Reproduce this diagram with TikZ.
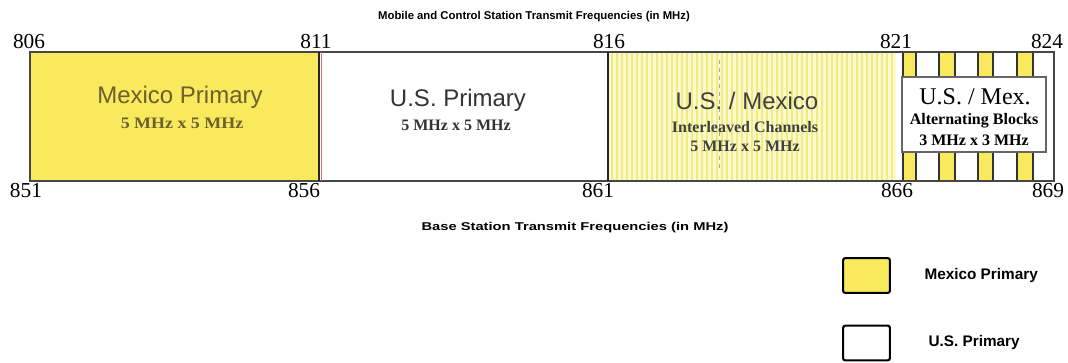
\documentclass[tikz,border=0pt]{standalone}
\usepackage{fontspec}
\setmainfont{Liberation Serif}
\setsansfont{Liberation Sans}
\usetikzlibrary{positioning}
\definecolor{mexyellow}{RGB}{248,234,92}
\definecolor{paleyellow}{RGB}{252,250,205}
\definecolor{stripeyellow}{RGB}{240,236,130}
\definecolor{mextext}{RGB}{110,94,48}
\definecolor{bandline}{RGB}{70,70,70}
\definecolor{splitred}{RGB}{225,110,120}

\begin{document}
\begin{tikzpicture}[x=0.75pt, y=-0.75pt,
    bandedge/.style={draw=bandline, line width=0.9pt},
    divider/.style={draw=black!85, line width=1.1pt},
    blockedge/.style={draw=black!80, line width=0.9pt},
    bigtitle/.style={font=\fontsize{18}{20}\selectfont\sffamily, inner sep=0pt},
    subtitle/.style={font=\fontsize{12}{13}\selectfont\bfseries, inner sep=0pt},
    freq/.style={font=\fontsize{16}{17}\selectfont, inner sep=0pt},
    axistitle/.style={font=\fontsize{8.5}{10}\selectfont\sffamily\bfseries, inner sep=0pt},
    legendbox/.style={draw=black, line width=1.6pt, rounded corners=1.5pt,
                      minimum width=35pt, minimum height=26pt, inner sep=0pt},
    legendtext/.style={font=\fontsize{11.5}{13}\selectfont\sffamily\bfseries, inner sep=0pt}
]
    \useasboundingbox (0,0) rectangle (1068,362);

    % band fills
    \fill[mexyellow] (30,52) rectangle (319,181);
    \fill[paleyellow] (608,52) rectangle (896,181);
    \foreach \x in {612,617,...,894}
        \draw[stripeyellow, line width=1.4pt] (\x,53) -- (\x,180);
    \draw[black!35, dashed, line width=0.5pt] (719,60) -- (719,168);

    % alternating blocks
    \foreach \a/\b in {903/916, 939/955, 978/993, 1017/1033} {
        \fill[mexyellow] (\a,52) rectangle (\b,77);
        \fill[mexyellow] (\a,152) rectangle (\b,181);
        \draw[blockedge] (\a,52) -- (\a,77) (\b,52) -- (\b,77);
        \draw[blockedge] (\a,152) -- (\a,181) (\b,152) -- (\b,181);
    }
    \node[draw=black!60, fill=white, line width=0.8pt, minimum width=108pt,
          minimum height=56.25pt, inner sep=0pt] (altbox) at (974,114.5) {};

    % outline
    \draw[bandedge] (30,52) rectangle (1054,181);
    \draw[divider] (319,52) -- (319,181);
    \draw[splitred, line width=0.7pt] (321.5,52) -- (321.5,181);
    \draw[divider, line width=1.6pt] (608,52) -- (608,181);

    \foreach \lbl/\x in {806/29, 811/316, 816/609, 821/896, 824/1047}
        \node[freq] (top\lbl) at (\x,42) {\lbl};
    \foreach \lbl/\x in {851/26, 856/304, 861/598, 866/897, 869/1048}
        \node[freq] (bot\lbl) at (\x,191) {\lbl};

    \node[axistitle] (toptitle) at (534,17) {Mobile and Control Station Transmit Frequencies (in MHz)};
    \node[axistitle] (basetitle) at (575,228) {\scalebox{1.3}[1]{Base Station Transmit Frequencies (in MHz)}};

    \node[bigtitle, text=mextext] (mextitle) at (180,97) {Mexico Primary};
    \node[subtitle, text=mextext] (mexsub) at (182,123) {\scalebox{1.12}[1]{5 MHz x 5 MHz}};
    \node[bigtitle, text=black!80] (ustitle) at (458,100) {U.S. Primary};
    \node[subtitle, text=black!80] (ussub) at (456,125) {5 MHz x 5 MHz};
    \node[bigtitle, text=black!75] (sharetitle) at (747,101) {U.S. / Mexico};
    \node[subtitle, text=black!75] (sharesub) at (745,127) {Interleaved Channels};
    \node[subtitle, text=black!75] (sharesize) at (745,146) {5 MHz x 5 MHz};
    \node[bigtitle, font=\fontsize{18}{20}\selectfont\rmfamily] (alttitle) at (975,97) {U.S. / Mex.};
    \node[subtitle] (altsub) at (974,121) {Alternating Blocks};
    \node[subtitle] (altsize) at (974,140) {3 MHz x 3 MHz};

    % legend
    \node[legendbox, fill=mexyellow] (legmex) at (866.5,275.5) {};
    \node[legendtext, right=25pt of legmex] (legmextext) {Mexico Primary};
    \node[legendbox, fill=white] (legus) at (866.5,343) {};
    \node[legendtext, right=28pt of legus] (legustext) {U.S. Primary};
\end{tikzpicture}
\end{document}
